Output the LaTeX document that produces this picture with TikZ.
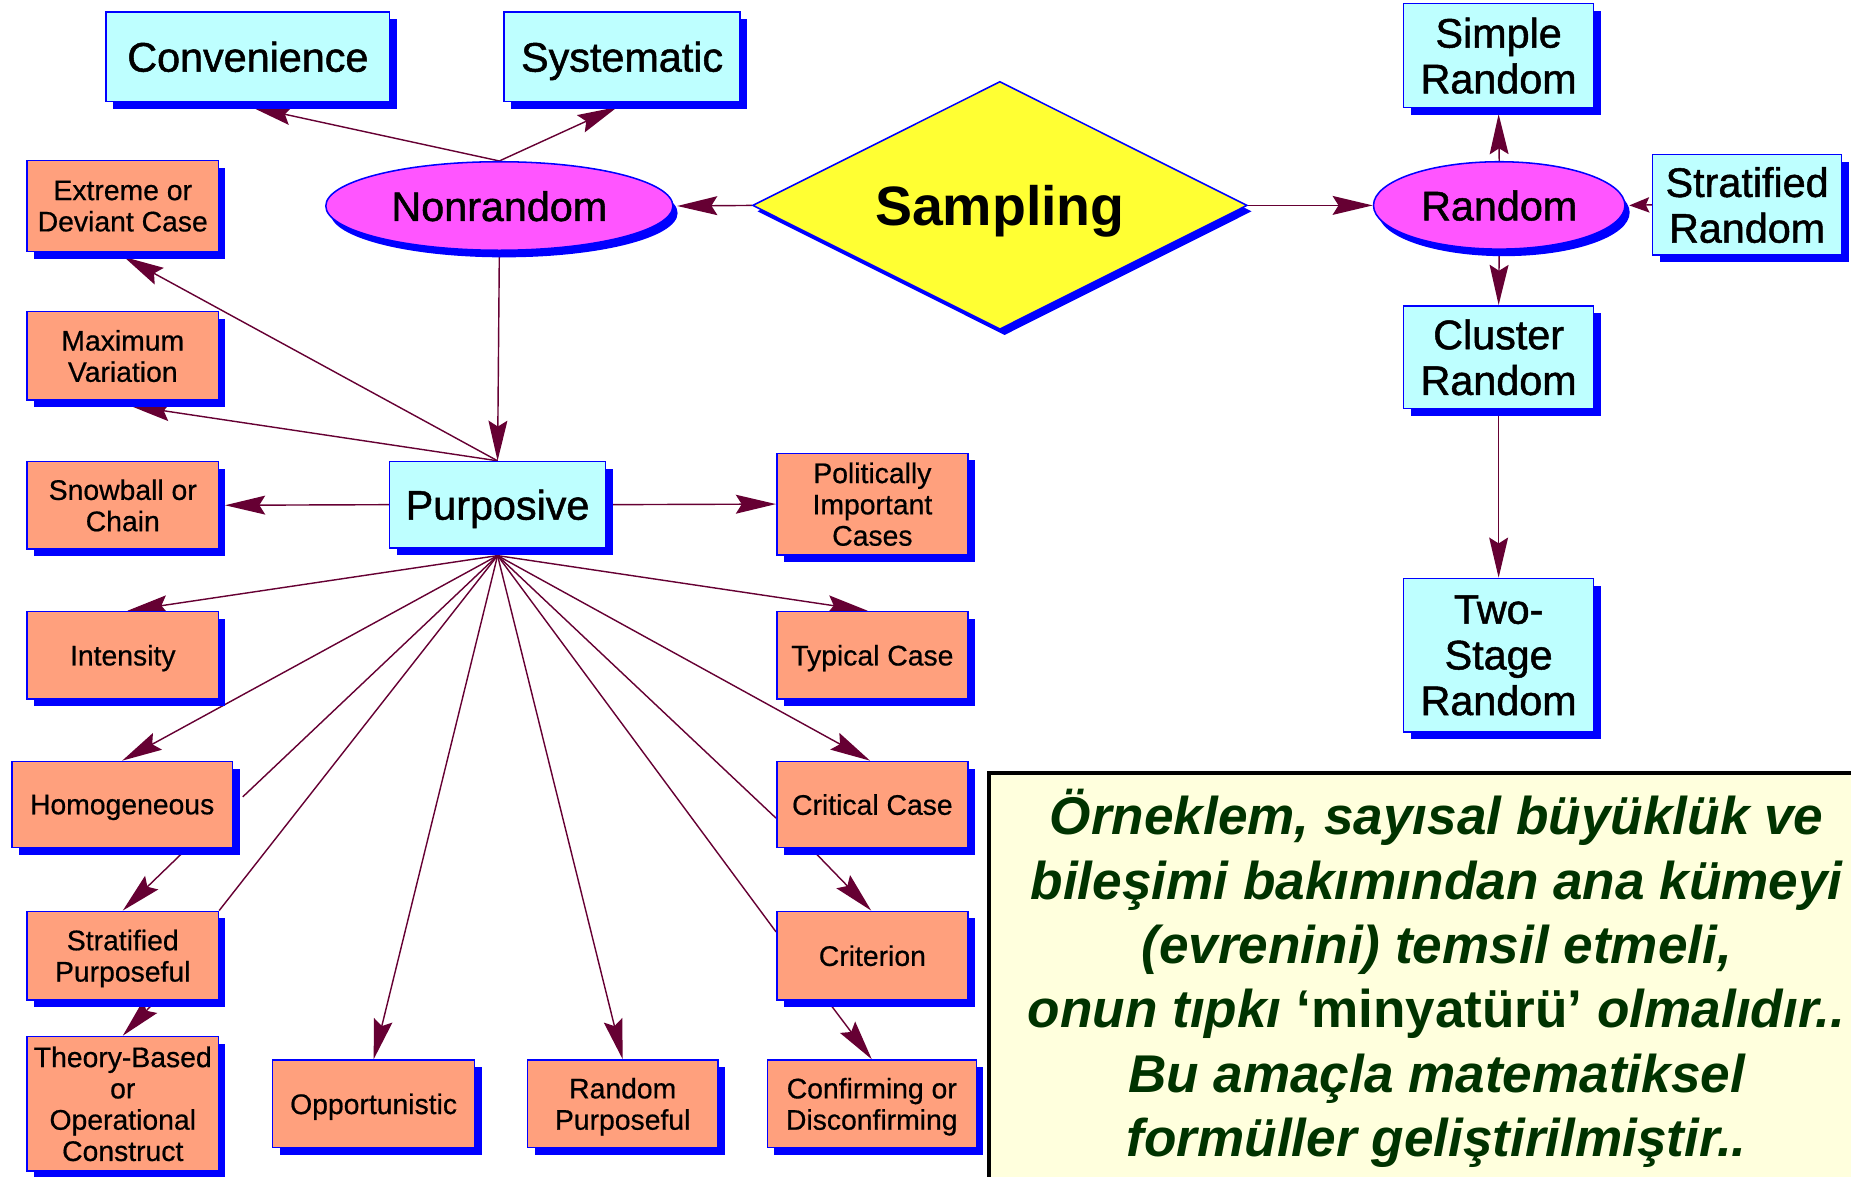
\documentclass[tikz,border=0pt]{standalone}
\usepackage{fontspec}
\setmainfont{Liberation Sans}
\newfontfamily\boxfont[FakeBold=1.2]{Liberation Sans}
\newfontfamily\salfont[FakeBold=0.6]{Liberation Sans}
\usetikzlibrary{shapes.geometric,shadows,arrows.meta}
\definecolor{cyanfill}{RGB}{190,255,255}
\definecolor{salfill}{RGB}{255,160,125}
\definecolor{magfill}{RGB}{255,85,255}
\definecolor{yelfill}{RGB}{255,255,51}
\definecolor{boxblue}{RGB}{0,0,255}
\definecolor{arrowc}{RGB}{102,0,51}
\definecolor{notefill}{RGB}{255,255,221}
\definecolor{notegreen}{RGB}{0,51,0}
\pgfdeclarelayer{background}
\pgfsetlayers{background,main}
\begin{document}
\begin{tikzpicture}[x=1pt,y=-1pt,
  base/.style={draw=boxblue,line width=1.3pt,inner sep=0pt,align=center,text=black,text depth=0pt},
  boxshadow/.style={drop shadow={shadow xshift=6pt,shadow yshift=-6pt,fill=boxblue,opacity=1}},
  cyanbox/.style={base,rectangle,fill=cyanfill,boxshadow,font=\boxfont\fontsize{35}{38.7}\selectfont},
  salbox/.style={base,rectangle,fill=salfill,boxshadow,font=\salfont\fontsize{24}{26.5}\selectfont},
  oval/.style={base,ellipse,fill=magfill,font=\boxfont\fontsize{35}{38.7}\selectfont,
    drop shadow={shadow xshift=4pt,shadow yshift=-6pt,fill=boxblue,opacity=1}},
  conn/.style={draw=arrowc,line width=1.2pt},
  arr/.style={conn,-{Stealth[length=34pt,width=16pt,inset=5pt]}},
  sarr/.style={conn,-{Stealth[length=17pt,width=13pt,inset=3pt]}},
]
\useasboundingbox (0,0) rectangle (1568,997);

% note box
\fill[notefill] (838,655) rectangle (1568,997);
\draw[line width=3pt,black] (838,997) -- (838,655) -- (1568,655);
\node[font=\fontsize{45}{54.5}\selectfont\bfseries\itshape,text=notegreen,align=center,inner sep=0pt]
  (note) at (1217,829) {Örneklem, sayısal büyüklük ve\\
  bileşimi bakımından ana kümeyi\\
  (evrenini) temsil etmeli,\\
  onun tıpkı {\upshape ‘minyatürü’} olmalıdır..\\
  Bu amaçla matematiksel\\
  formüller geliştirilmiştir..};

% top level
\node[base,diamond,aspect=2,fill=yelfill,minimum width=419pt,minimum height=210pt,
  font=\fontsize{47}{50}\selectfont\bfseries,
  drop shadow={shadow xshift=4pt,shadow yshift=-5pt,fill=boxblue,opacity=1}] (samp) at (847,174) {Sampling};
\node[oval,minimum width=294pt,minimum height=75pt] (nonrand) at (423,174.5) {Nonrandom};
\node[oval,minimum width=213pt,minimum height=74pt] (random) at (1270,174) {Random};

\node[cyanbox,minimum width=240pt,minimum height=76pt] (conv) at (210,48) {Convenience};
\node[cyanbox,minimum width=200pt,minimum height=76pt] (syst) at (527,48) {Systematic};
\node[cyanbox,minimum width=161pt,minimum height=88pt] (simple) at (1269.5,47) {Simple\\Random};
\node[cyanbox,minimum width=160pt,minimum height=85pt] (stratR) at (1480,173.5) {Stratified\\Random};
\node[cyanbox,minimum width=161pt,minimum height=87pt] (cluster) at (1269.5,302.5) {Cluster\\Random};
\node[cyanbox,minimum width=161pt,minimum height=130pt] (two) at (1269.5,555) {Two-\\Stage\\Random};
\node[cyanbox,minimum width=183pt,minimum height=73pt] (purp) at (421.5,427.5) {Purposive};

\node[salbox,minimum width=162pt,minimum height=77pt] (extreme) at (104,174.5) {Extreme or\\Deviant Case};
\node[salbox,minimum width=162pt,minimum height=75pt] (maxvar) at (104,301.5) {Maximum\\Variation};
\node[salbox,minimum width=162pt,minimum height=74pt] (snow) at (104,428) {Snowball or\\Chain};
\node[salbox,minimum width=162pt,minimum height=86pt] (polit) at (739,427) {Politically\\Important\\Cases};
\node[salbox,minimum width=162pt,minimum height=74pt] (intens) at (104,555) {Intensity};
\node[salbox,minimum width=162pt,minimum height=74pt] (typical) at (739,555) {Typical Case};
\node[salbox,minimum width=187pt,minimum height=73pt] (homog) at (103.5,681.5) {Homogeneous};
\node[salbox,minimum width=162pt,minimum height=73pt] (critical) at (739,681.5) {Critical Case};
\node[salbox,minimum width=162pt,minimum height=75pt] (sp) at (104,809.5) {Stratified\\Purposeful};
\node[salbox,minimum width=162pt,minimum height=75pt] (criterion) at (739,809.5) {Criterion};
\node[salbox,minimum width=162pt,minimum height=114pt] (theory) at (104,935) {Theory-Based\\or\\Operational\\Construct};
\node[salbox,minimum width=171pt,minimum height=74pt] (opp) at (316.5,935) {Opportunistic};
\node[salbox,minimum width=161pt,minimum height=74pt] (rp) at (527.5,935) {Random\\Purposeful};
\node[salbox,minimum width=177pt,minimum height=74pt] (conf) at (738.5,935) {Confirming or\\Disconfirming};

\coordinate (pbot) at ([yshift=-6pt]purp.south);

\begin{pgfonlayer}{background}
\draw[arr] (nonrand.north) -- ([xshift=3pt,yshift=-4pt]conv.south);
\draw[arr] (nonrand.north) -- ([xshift=-4pt,yshift=-4pt]syst.south);
\draw[arr] (samp.west) -- ([xshift=3pt]nonrand.east);
\draw[arr] (samp.east) -- (random.west);
\draw[arr] (random.north) -- ([yshift=-5pt]simple.south);
\draw[sarr] (stratR.west) -- ([xshift=3pt]random.east);
\draw[arr] (random.south) -- (cluster.north);
\draw[arr] (cluster.south) -- (two.north);
\draw[arr] (nonrand.south) -- (purp.north);
\draw[arr] (purp.north) -- ([xshift=1pt,yshift=-4pt]extreme.south);
\draw[arr] (purp.north) -- ([xshift=6pt,yshift=-4pt]maxvar.south);
\draw[arr] (purp.west) -- ([xshift=5pt]snow.east);
\draw[arr] (purp.east) -- (polit.west);
\draw[arr] (pbot) -- ([xshift=4pt]intens.north);
\draw[arr] (pbot) -- ([xshift=-4pt]typical.north);
\draw[arr] (pbot) -- (homog.north);
\draw[arr] (pbot) -- ([xshift=-2pt]critical.north);
\draw[conn] (pbot) -- ([xshift=8pt,yshift=6.5pt]homog.east);
\draw[conn] (pbot) -- (sp.north east);
\draw[conn] (pbot) -- ([yshift=-11.5pt]critical.west);
\draw[conn] (pbot) -- ([yshift=-18pt]criterion.north west);
\draw[arr] (pbot) -- (opp.north);
\draw[arr] (pbot) -- (rp.north);
\draw[arr] ([xshift=55pt]homog.south) -- (sp.north);
\draw[arr] ([xshift=28pt]sp.south) -- (theory.north);
\draw[arr] ([xshift=-52pt]critical.south) -- ([xshift=-1pt]criterion.north);
\draw[arr] ([xshift=-38pt]criterion.south) -- (conf.north);
\end{pgfonlayer}
\end{tikzpicture}
\end{document}
